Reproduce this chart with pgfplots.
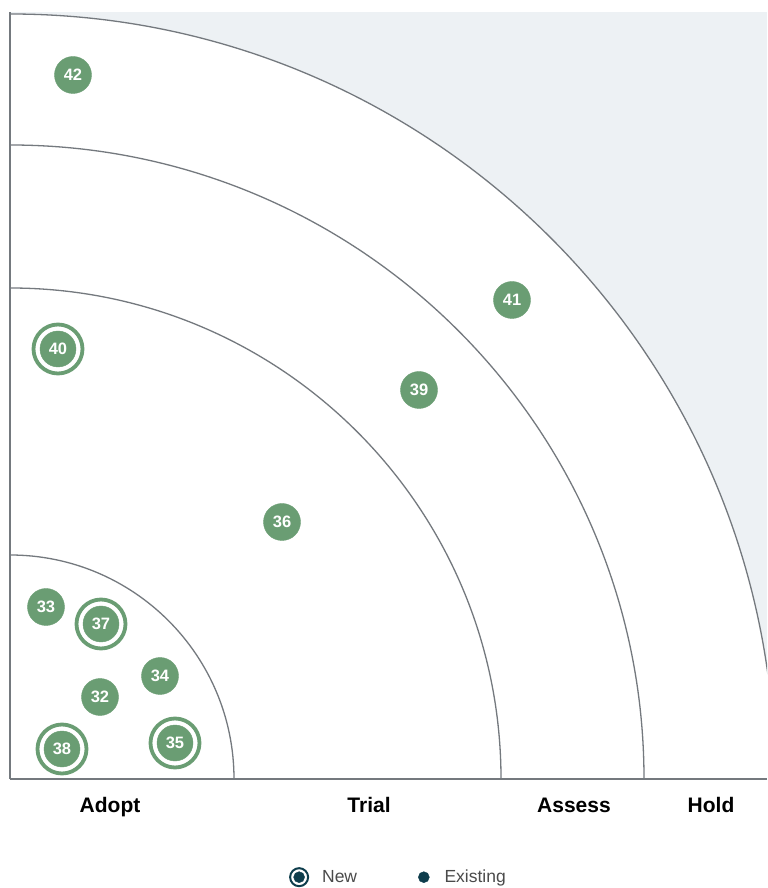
\documentclass[border=0pt]{standalone}
\usepackage{pgfplots}
\pgfplotsset{compat=1.18}
\usepackage{pgfplotstable}
\usepackage{fontspec}
\setmainfont{Liberation Sans}

\definecolor{blip}{HTML}{6A9D73}
\definecolor{ringc}{HTML}{74797E}
\definecolor{bgout}{HTML}{EDF1F4}
\definecolor{legdark}{HTML}{0E3D4C}
\definecolor{legtext}{HTML}{4A4A4A}

% blip positions, axis units = pixels from the origin corner
\pgfplotstableread{
x   y   id
63  704 42
502 479 41
409 389 39
272 257 36
36  172 33
150 103 34
90  82  32
}\existing

\pgfplotstableread{
x   y   id
48  430 40
91  155 37
52  30  38
165 36  35
}\newblips

\begin{document}
\begin{tikzpicture}
\begin{axis}[
    scale only axis,
    width=757pt, height=767pt,
    xmin=0, xmax=757, ymin=0, ymax=767,
    axis x line*=bottom, axis y line*=left,
    axis line style={ringc, line width=1.3pt},
    axis background/.style={fill=bgout},
    axis on top,
    ytick=\empty,
    xtick={100,359,564,701},
    xticklabels={Adopt,Trial,Assess,Hold},
    major tick length=0pt,
    xticklabel style={font=\bfseries\fontsize{21}{24}\selectfont, text=black,
        anchor=north, text height=15pt, text depth=4.5pt, yshift=-15pt},
    legend columns=2,
    legend style={at={(0.5125,-0.128)}, anchor=center, draw=none, fill=none,
        inner sep=0pt, nodes={inner sep=1pt},
        font=\fontsize{17.5}{20}\selectfont, text=legtext,
        /tikz/every even column/.append style={column sep=60pt}},
]
% rings
\fill[white] (axis cs:0,0) circle[radius=765];
\draw[ringc, line width=1.3pt] (axis cs:0,0) circle[radius=765];
\draw[ringc, line width=1.3pt] (axis cs:0,0) circle[radius=634];
\draw[ringc, line width=1.3pt] (axis cs:0,0) circle[radius=491];
\draw[ringc, line width=1.3pt] (axis cs:0,0) circle[radius=224];

\addlegendimage{legend image code/.code={
    \draw[legdark, line width=2pt, fill=white] (0.25cm,0) circle (9pt);
    \fill[legdark] (0.25cm,0) circle (5.5pt);}}
\addlegendentry{\hspace{12pt}New}
\addlegendimage{legend image code/.code={
    \fill[legdark] (0.25cm,0) circle (5.5pt);}}
\addlegendentry{\hspace{14pt}Existing}

% new blips: outer ring
\addplot[only marks, mark=*, mark size=24.5pt,
    mark options={draw=blip, fill=white, line width=3.8pt}, forget plot]
    table[x=x, y=y] {\newblips};
% new blips: core
\addplot[only marks, mark=*, mark size=18pt,
    mark options={draw=blip, fill=blip},
    nodes near coords, point meta=explicit symbolic,
    nodes near coords style={anchor=center, text=white,
        font=\bfseries\fontsize{16.5}{16}\selectfont}, forget plot]
    table[x=x, y=y, meta=id] {\newblips};
% existing blips
\addplot[only marks, mark=*, mark size=18.5pt,
    mark options={draw=blip, fill=blip},
    nodes near coords, point meta=explicit symbolic,
    nodes near coords style={anchor=center, text=white,
        font=\bfseries\fontsize{16.5}{16}\selectfont}, forget plot]
    table[x=x, y=y, meta=id] {\existing};

\coordinate (bl) at (axis cs:-10,-109);
\coordinate (tr) at (axis cs:757,779);
\end{axis}
\path (bl) rectangle (tr);
\end{tikzpicture}
\end{document}
